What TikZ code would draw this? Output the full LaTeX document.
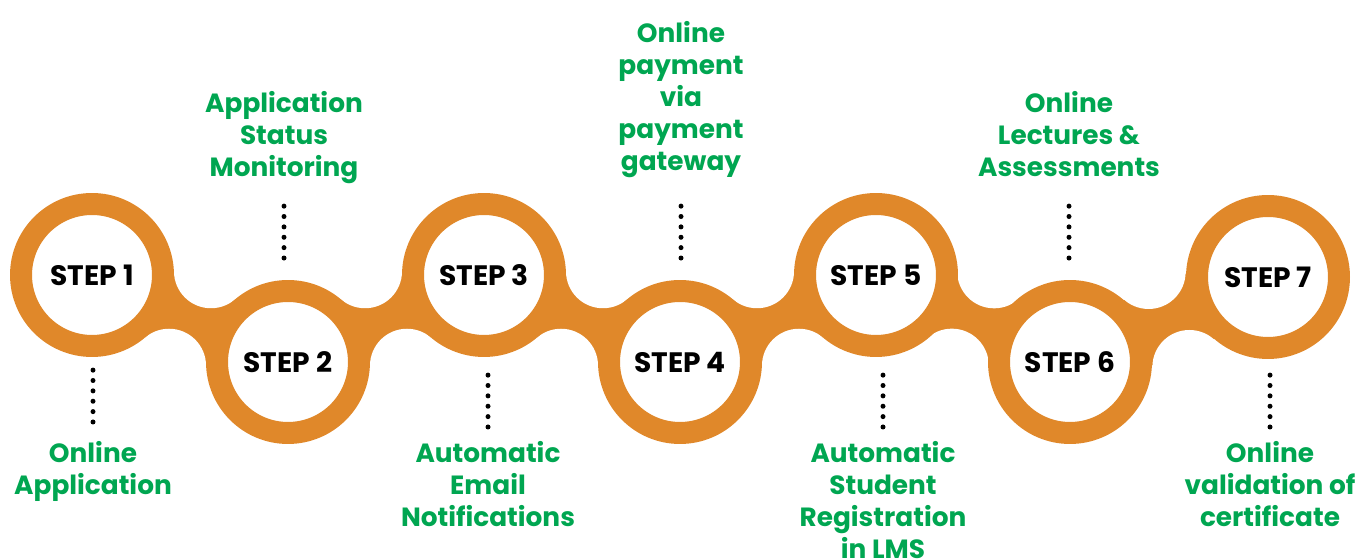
\documentclass[tikz,border=0pt]{standalone}
\usepackage{fontspec}
\setmainfont{Poppins}
\usetikzlibrary{calc}
\definecolor{steporange}{RGB}{224,136,42}
\definecolor{labelgreen}{RGB}{0,166,81}
\tikzset{
  stepcircle/.style={circle, draw=steporange, line width=0.44cm, fill=white,
    minimum size=2.84cm, inner sep=0pt, font=\fontsize{16}{19}\selectfont\bfseries},
  steplabel/.style={anchor=north, align=center, inner sep=0pt, text=labelgreen,
    font=\fontsize{15}{18.2}\selectfont\bfseries},
  dotline/.style={line width=0.1cm, line cap=round, dash pattern=on 0pt off 0.2075cm},
}
\begin{document}
\begin{tikzpicture}[x=0.02cm, y=0.02cm]
    \useasboundingbox (0,0) rectangle (1363,560);
    \coordinate (c1) at (92,285);
    \coordinate (c2) at (288,198);
    \coordinate (c3) at (484,285);
    \coordinate (c4) at (680,198);
    \coordinate (c5) at (876,285);
    \coordinate (c6) at (1070,198);
    \coordinate (c7) at (1268,283);
	%
    \foreach \i/\j in {1/2,2/3,3/4,4/5,5/6,6/7} {
      \coordinate (m) at ($(c\i)!0.5!(c\j)$);
      \coordinate (ft) at ($(m)!1.034cm!90:(c\j)$);
      \coordinate (fb) at ($(m)!1.034cm!-90:(c\j)$);
      \fill[steporange] (c\i) -- (ft) -- (c\j) -- (fb) -- cycle;
      \fill[white] (ft) circle[radius=0.74cm] (fb) circle[radius=0.74cm];
    }
	%
    \node[stepcircle] (s1) at (c1) {STEP 1};
    \node[stepcircle] (s2) at (c2) {STEP 2};
    \node[stepcircle] (s3) at (c3) {STEP 3};
    \node[stepcircle] (s4) at (c4) {STEP 4};
    \node[stepcircle] (s5) at (c5) {STEP 5};
    \node[stepcircle] (s6) at (c6) {STEP 6};
    \node[stepcircle] (s7) at (c7) {STEP 7};
	%
    \node[steplabel] (l1) at (93,119) {Online\\Application};
    \node[steplabel] (l2) at (284,469) {Application\\Status\\Monitoring};
    \node[steplabel] (l3) at (488,119) {Automatic\\Email\\Notifications};
    \node[steplabel] (l4) at (681,539) {Online\\payment\\via\\payment\\gateway};
    \node[steplabel] (l5) at (883,119) {Automatic\\Student\\Registration\\in LMS};
    \node[steplabel] (l6) at (1069,469) {Online\\Lectures \&\\Assessments};
    \node[steplabel] (l7) at (1270,119) {Online\\validation of\\certificate};
	%
    \draw[dotline] ($(l1.north)+(0,19)$) -- ++(0,52);
    \draw[dotline] ($(l3.north)+(0,14)$) -- ++(0,52);
    \draw[dotline] ($(l5.north)+(0,14)$) -- ++(0,52);
    \draw[dotline] ($(l7.north)+(0,14)$) -- ++(0,52);
    %
    \draw[dotline] ($(l2.south |- s2.north)+(0,22)$) -- ++(0,52);
    \draw[dotline] ($(l4.south |- s4.north)+(0,22)$) -- ++(0,52);
    \draw[dotline] ($(l6.south |- s6.north)+(0,22)$) -- ++(0,52);
\end{tikzpicture}
\end{document}
